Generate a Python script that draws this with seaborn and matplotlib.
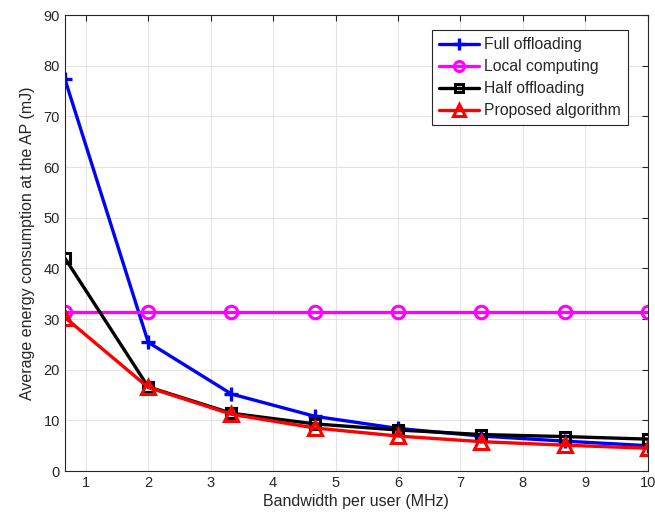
import matplotlib
matplotlib.use("Agg")
import matplotlib.pyplot as plt
import seaborn as sns
import pandas as pd
import numpy as np

bandwidth = [0.667, 2.0, 3.333, 4.667, 6.0, 7.333, 8.667, 10.0]
full_offloading = [77.3, 25.4, 15.2, 10.8, 8.4, 6.9, 5.9, 5.0]
local_computing = [31.3, 31.3, 31.3, 31.3, 31.3, 31.3, 31.3, 31.3]
half_offloading = [42.0, 16.6, 11.4, 9.3, 8.1, 7.2, 6.8, 6.3]
proposed = [30.3, 16.5, 11.2, 8.5, 6.9, 5.8, 5.1, 4.5]

series = ["Full offloading", "Local computing", "Half offloading", "Proposed algorithm"]
df = pd.concat([
    pd.DataFrame({"x": bandwidth, "y": v, "s": n})
    for n, v in zip(series, [full_offloading, local_computing, half_offloading, proposed])
])

sns.set_style("white")
plt.rcParams['font.family'] = ['Liberation Sans', 'DejaVu Sans']

fig = plt.figure(figsize=(6.55, 5.29), dpi=100)
ax = fig.add_axes([0.0992, 0.1096, 0.8898, 0.862])

palette = {"Full offloading": "#0000ff", "Local computing": "#ff00ff",
           "Half offloading": "#000000", "Proposed algorithm": "#ff0000"}
markers = {"Full offloading": "P", "Local computing": "o",
           "Half offloading": "s", "Proposed algorithm": "^"}
sns.lineplot(data=df, x="x", y="y", hue="s", style="s", palette=palette,
             markers=markers, dashes=False, ax=ax, linewidth=2.4, markersize=8, legend=False)

ms = {"Full offloading": dict(marker="+", ms=10, mew=2.4),
      "Local computing": dict(marker="o", ms=9, mew=2.2),
      "Half offloading": dict(marker="s", ms=7, mew=2.2),
      "Proposed algorithm": dict(marker="^", ms=10, mew=2.2)}
for line, n in zip(ax.lines, series):
    line.set_marker(ms[n]["marker"])
    line.set_markersize(ms[n]["ms"])
    line.set_markeredgewidth(ms[n]["mew"])
    line.set_markerfacecolor("none")
    line.set_markeredgecolor(palette[n])
    line.set_label(n)

ax.set_xlim(0.667, 10)
ax.set_ylim(0, 90)
ax.set_xticks(range(1, 11))
ax.set_yticks(range(0, 91, 10))
ax.grid(True, color="#e3e3e3", linewidth=0.8)
ax.tick_params(direction="in", top=True, right=True, labelsize=10.5, colors="#262626",
               length=4, width=0.8)
for sp in ax.spines.values():
    sp.set_color("#262626")
    sp.set_linewidth(0.8)
ax.set_xlabel("Bandwidth per user (MHz)", fontsize=11.5, color="#262626", labelpad=3)
ax.set_ylabel("Average energy consumption at the AP (mJ)", fontsize=11.5, color="#262626", labelpad=6)

leg = ax.legend(loc="upper right", bbox_to_anchor=(0.966, 0.967), fontsize=11.3,
                frameon=True, fancybox=False, edgecolor="#262626", framealpha=1,
                handlelength=2.6, borderpad=0.45, labelspacing=0.45, handletextpad=0.3,
                borderaxespad=0, markerscale=0.8)
leg.get_frame().set_linewidth(0.8)

fig.savefig("out.png", dpi=100)
